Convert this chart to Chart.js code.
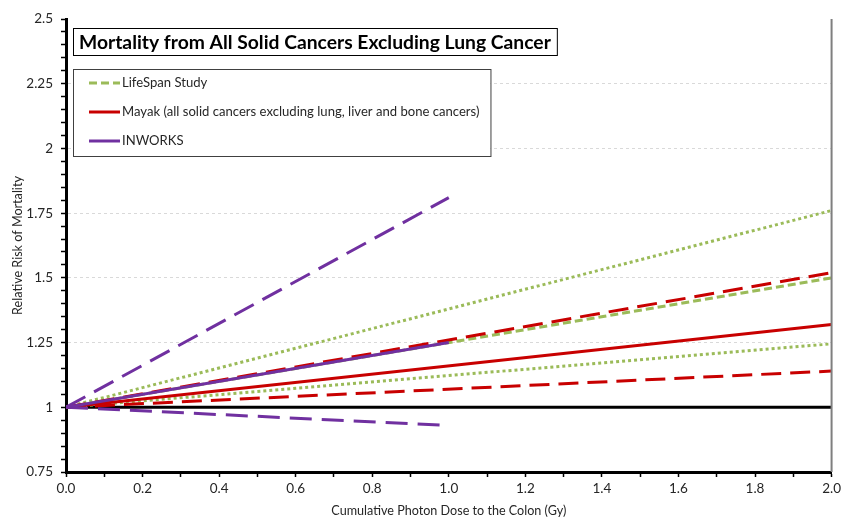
<!DOCTYPE html>
<html>
<head>
<meta charset="utf-8">
<script src="https://cdn.jsdelivr.net/npm/chart.js@4"></script>
<style>
  html, body { margin: 0; padding: 0; background: #fff; }
  #wrap { width: 845px; height: 518px; }
</style>
</head>
<body>
<div id="wrap"><canvas id="chart" width="845" height="518"></canvas></div>
<script>
// dose (Gy) end points for each study
const lssDose = [0, 2];
const mayakDose = [0, 2];
const inworksDose = [0, 1];
const baselineDose = [0, 2];

// relative risk values
const lssCentral = [1, 1.5];
const lssUpper = [1, 1.76];
const lssLower = [1, 1.245];
const mayakCentral = [1, 1.32];
const mayakUpper = [1, 1.52];
const mayakLower = [1, 1.14];
const inworksCentral = [1, 1.25];
const inworksUpper = [1, 1.81];
const inworksLower = [1, 0.93];
const baseline = [1, 1];

const chartTitle = "Mortality from All Solid Cancers Excluding Lung Cancer";
const legendLabels = ["LifeSpan Study", "Mayak (all solid cancers excluding lung, liver and bone cancers)", "INWORKS"];
const xTitle = "Cumulative Photon Dose to the Colon (Gy)";
const yTitle = "Relative Risk of Mortality";

const FONT = "Lato, 'Open Sans', sans-serif";
const GREEN = "#9BBB59", RED = "#C80000", PURPLE = "#7030A0";

function pts(xs, ys) {
  return xs.map((x, i) => ({ x: x, y: ys[i] }));
}

function line(label, xs, ys, color, dash, order) {
  return {
    label: label,
    data: pts(xs, ys),
    borderColor: color,
    borderWidth: 3,
    borderDash: dash,
    pointRadius: 0,
    fill: false,
    order: order
  };
}

// title and legend sit inside the plot area, each in its own box
const boxesPlugin = {
  id: "boxes",
  afterDraw(chart) {
    const ctx = chart.ctx;
    const area = chart.chartArea;
    const left = area.left + 7;

    // right edge of plot
    ctx.save();
    ctx.strokeStyle = "#7f7f7f";
    ctx.lineWidth = 2;
    ctx.beginPath();
    ctx.moveTo(area.right, area.top);
    ctx.lineTo(area.right, area.bottom);
    ctx.stroke();

    // title box
    ctx.font = "bold 19.3px " + FONT;
    const tw = ctx.measureText(chartTitle).width;
    const tTop = area.top + 9;
    ctx.fillStyle = "#fff";
    ctx.fillRect(left, tTop, tw + 12, 27);
    ctx.strokeStyle = "#000";
    ctx.lineWidth = 1;
    ctx.strokeRect(left + 0.5, tTop + 0.5, tw + 12, 27);
    ctx.fillStyle = "#000";
    ctx.textBaseline = "middle";
    ctx.fillText(chartTitle, left + 6, tTop + 14.5);

    // legend box
    ctx.font = "13.1px " + FONT;
    const lw = Math.max(...legendLabels.map(t => ctx.measureText(t).width));
    const lTop = area.top + 50;
    const boxW = 49 + lw + 11;
    ctx.fillStyle = "#fff";
    ctx.fillRect(left, lTop, boxW, 87);
    ctx.strokeStyle = "#404040";
    ctx.strokeRect(left + 0.5, lTop + 0.5, boxW, 87);

    const sets = [chart.data.datasets[0], chart.data.datasets[3], chart.data.datasets[6]];
    legendLabels.forEach((txt, i) => {
      const y = lTop + 14 + i * 29;
      const ds = sets[i];
      ctx.strokeStyle = ds.borderColor;
      ctx.lineWidth = 3;
      ctx.setLineDash(ds.borderDash || []);
      ctx.beginPath();
      ctx.moveTo(left + 16, y);
      ctx.lineTo(left + 47, y);
      ctx.stroke();
      ctx.setLineDash([]);
      ctx.fillStyle = "#262626";
      ctx.fillText(txt, left + 49, y);
    });
    ctx.restore();
  }
};

function isStep(v, step) {
  return Math.abs(v / step - Math.round(v / step)) < 1e-6;
}

const ctx = document.getElementById("chart").getContext("2d");

new Chart(ctx, {
  type: "line",
  data: {
    datasets: [
      line(legendLabels[0], lssDose, lssCentral, GREEN, [8, 4], 2),
      line("LSS upper", lssDose, lssUpper, GREEN, [3, 3], 2),
      line("LSS lower", lssDose, lssLower, GREEN, [3, 3], 2),
      line(legendLabels[1], mayakDose, mayakCentral, RED, [], 1),
      line("Mayak upper", mayakDose, mayakUpper, RED, [20, 9], 1),
      line("Mayak lower", mayakDose, mayakLower, RED, [20, 9], 1),
      line(legendLabels[2], inworksDose, inworksCentral, PURPLE, [], 0),
      line("INWORKS upper", inworksDose, inworksUpper, PURPLE, [22, 10], 0),
      line("INWORKS lower", inworksDose, inworksLower, PURPLE, [22, 10], 0),
      line("No effect", baselineDose, baseline, "#000", [], 3)
    ]
  },
  options: {
    responsive: false,
    animation: false,
    layout: { padding: { left: 0, top: 19, right: 10, bottom: 0 } },
    plugins: {
      legend: { display: false },
      tooltip: { enabled: false }
    },
    scales: {
      x: {
        type: "linear",
        min: 0,
        max: 2,
        afterFit: (s) => { s.height = 46; },
        ticks: {
          stepSize: 0.1,
          autoSkip: false,
          maxRotation: 0,
          color: "#262626",
          font: { family: FONT, size: 13.5 },
          padding: 4,
          callback: (v) => isStep(v, 0.2) ? v.toFixed(1) : ""
        },
        grid: {
          drawOnChartArea: false,
          tickLength: 5,
          tickColor: "#000",
          tickWidth: 1.5
        },
        border: { color: "#000", width: 3 },
        title: {
          display: true,
          text: xTitle,
          color: "#262626",
          font: { family: FONT, size: 12.6 },
          padding: { top: 2, bottom: 0 }
        }
      },
      y: {
        min: 0.75,
        max: 2.5,
        afterFit: (s) => { s.width = 66; },
        ticks: {
          stepSize: 0.05,
          autoSkip: false,
          color: "#262626",
          font: { family: FONT, size: 13.5 },
          padding: 8,
          callback: (v) => isStep(v, 0.25) ? String(Number(v.toFixed(2))) : ""
        },
        grid: {
          color: (c) => (c.tick && isStep(c.tick.value, 0.25) && c.tick.value < 2.49 && c.tick.value > 0.76) ? "#d9d9d9" : "transparent",
          tickColor: "#000",
          tickLength: 5,
          tickWidth: 1.5
        },
        border: { color: "#000", width: 3, dash: [3, 3] },
        title: {
          display: true,
          text: yTitle,
          color: "#262626",
          font: { family: FONT, size: 12.6 },
          padding: { top: 10, bottom: 4 }
        }
      }
    }
  },
  plugins: [boxesPlugin]
});
</script>
</body>
</html>
